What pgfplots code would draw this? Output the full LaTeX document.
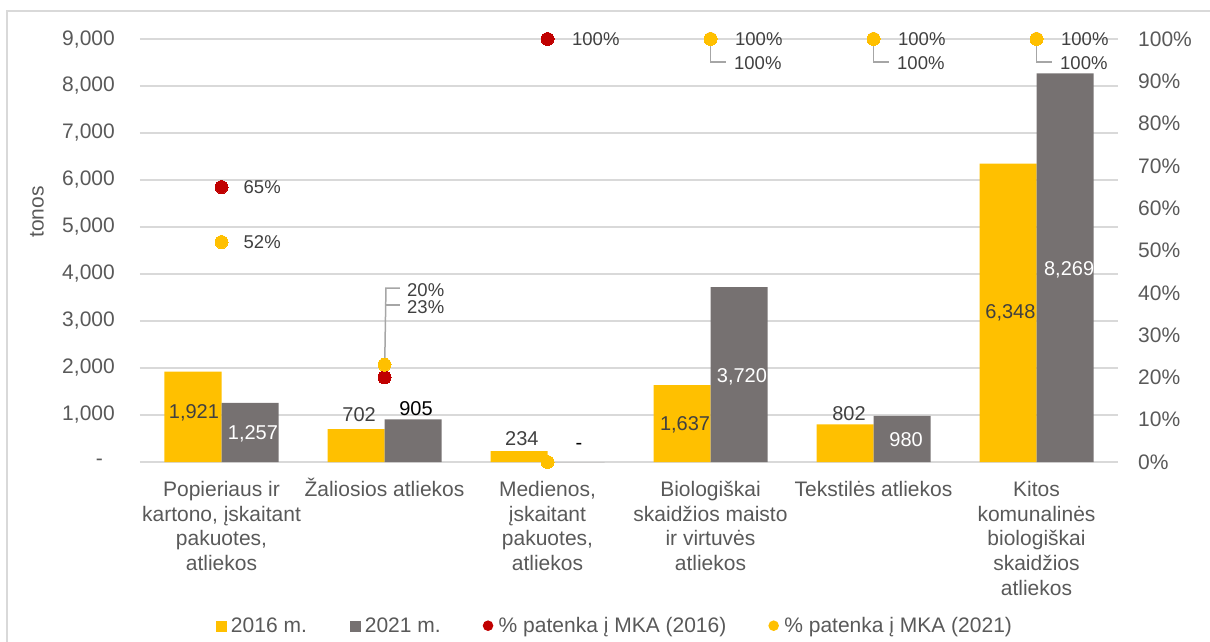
\documentclass[border=0pt]{standalone}
\usepackage{fontspec}
\setmainfont{Liberation Sans}
\usepackage{pgfplots}
\pgfplotsset{compat=1.18}
\definecolor{cyellow}{HTML}{FFC000}
\definecolor{cgrey}{HTML}{767171}
\definecolor{cred}{HTML}{C00000}
\definecolor{ctext}{HTML}{595959}
\definecolor{clab}{HTML}{404040}
\definecolor{cgrid}{HTML}{D9D9D9}
\definecolor{clead}{HTML}{A6A6A6}
\newcommand{\fA}{\fontsize{21}{24.7}\selectfont}
\newcommand{\fB}{\fontsize{20}{24}\selectfont}
\newcommand{\fC}{\fontsize{18.5}{22}\selectfont}
\begin{document}
\begin{tikzpicture}
\useasboundingbox (0,0) rectangle (1210pt,641pt);
\draw[cgrid, line width=1.5pt] (7pt,-3pt) rectangle (1214pt,630pt);
\begin{axis}[
  at={(140pt,179pt)}, anchor=south west,
  scale only axis, width=978pt, height=423pt,
  xmin=-0.5, xmax=5.5, ymin=0, ymax=9000,
  ybar=0pt, bar width=57pt,
  axis line style={draw=none}, tick style={draw=none}, major tick length=0pt,
  ymajorgrids, major grid style={cgrid, line width=1.2pt},
  xtick={0,...,5},
  xticklabels={{Popieriaus ir\\kartono, įskaitant\\pakuotes,\\atliekos},
    {\smash{Ž}aliosios atliekos},
    {Medienos,\\įskaitant\\pakuotes,\\atliekos},
    {Biologiškai\\skaidžios maisto\\ir virtuvės\\atliekos},
    {Tekstilės atliekos},
    {Kitos\\komunalinės\\biologiškai\\skaidžios\\atliekos}},
  ytick={0,1000,...,9000},
  yticklabels={{-\hspace*{12pt}},{1,000},{2,000},{3,000},{4,000},{5,000},{6,000},{7,000},{8,000},{9,000}},
  tick label style={font=\fA, text=ctext, inner sep=0pt},
  xticklabel style={align=center, anchor=north, yshift=-19pt},
  yticklabel style={anchor=east, xshift=-25pt},
  ylabel={tonos},
  ylabel style={font=\fA, text=ctext, at={(axis description cs:-0.1053,0.591)}, anchor=center, rotate=0},
  clip=false,
  legend columns=4, legend cell align=left,
  legend style={at={(axis description cs:0.0777,-0.387)}, anchor=west,
    draw=none, fill=none, inner sep=0pt, outer sep=0pt, column sep=0pt, row sep=0pt,
    nodes={inner sep=0pt, outer sep=0pt, font=\fA, text=ctext, anchor=west}},
]
\addplot[fill=cyellow, draw=none,
  legend image code/.code={\fill[cyellow] (0pt,-6.5pt) rectangle (11pt,4.5pt); \path[draw=none,fill=none] (0pt,0pt) -- (15pt,0pt);}]
  coordinates {(0,1921) (1,702) (2,234) (3,1637) (4,802) (5,6348)};
\addlegendentry{2016 m.\hspace*{43pt}}
\addplot[fill=cgrey, draw=none,
  legend image code/.code={\fill[cgrey] (0pt,-6.5pt) rectangle (11pt,4.5pt); \path[draw=none,fill=none] (0pt,0pt) -- (15pt,0pt);}]
  coordinates {(0,1257) (1,905) (2,0) (3,3720) (4,980) (5,8269)};
\addlegendentry{2021 m.\hspace*{42pt}}
\addlegendimage{legend image code/.code={\fill[cred, draw=none] (5.3pt,0pt) circle (5.3pt); \path[draw=none,fill=none] (0pt,0pt) -- (16pt,0pt);}}
\addlegendentry{\% patenka į MKA (2016)\hspace*{42pt}}
\addlegendimage{legend image code/.code={\fill[cyellow, draw=none] (5.3pt,0pt) circle (5.3pt); \path[draw=none,fill=none] (0pt,0pt) -- (16pt,0pt);}}
\addlegendentry{\% patenka į MKA (2021)}
% bar value labels
\node[font=\fB, text=clab] at (axis cs:-0.169,1042) {1,921};
\node[font=\fB, text=white] at (axis cs:0.193,596) {1,257};
\node[font=\fB, text=clab] at (axis cs:0.844,1000) {702};
\node[font=\fB, text=black] at (axis cs:1.193,1128) {905};
\node[font=\fB, text=clab] at (axis cs:1.843,489) {234};
\node[font=\fB, text=black] at (axis cs:2.193,340) {-};
\node[font=\fB, text=clab] at (axis cs:2.844,787) {1,637};
\node[font=\fB, text=white] at (axis cs:3.193,1809) {3,720};
\node[font=\fB, text=clab] at (axis cs:3.85,1021) {802};
\node[font=\fB, text=white] at (axis cs:4.2,468) {980};
\node[font=\fB, text=clab] at (axis cs:4.84,3170) {6,348};
\node[font=\fB, text=white] at (axis cs:5.2,4080) {8,269};
\end{axis}
\begin{axis}[
  at={(140pt,179pt)}, anchor=south west,
  scale only axis, width=978pt, height=423pt,
  xmin=-0.5, xmax=5.5, ymin=0, ymax=100,
  hide x axis, axis line style={draw=none}, tick style={draw=none}, major tick length=0pt,
  yticklabel pos=right,
  ytick={0,10,...,100},
  yticklabels={0\%,10\%,20\%,30\%,40\%,50\%,60\%,70\%,80\%,90\%,100\%},
  yticklabel style={font=\fA, text=ctext, inner sep=0pt, anchor=west, xshift=20pt},
  clip=false,
]
\addplot[only marks, color=cred, mark=*, mark size=6.5pt, mark options={draw=cred, fill=cred, line width=0pt}]
  coordinates {(0,65) (1,20) (2,100) (3,100) (4,100) (5,100)};
\addplot[only marks, color=cyellow, mark=*, mark size=6.5pt, mark options={draw=cyellow, fill=cyellow, line width=0pt}]
  coordinates {(0,52) (1,23) (2,0) (3,100) (4,100) (5,100)};
% leader lines
\draw[clead, line width=1.5pt] (axis cs:1.0,20) -- (axis cs:1.009,41.1) -- (axis cs:1.095,41.1);
\draw[clead, line width=1.5pt] (axis cs:1.005,37.1) -- (axis cs:1.095,37.1);
\draw[clead, line width=1.5pt] (axis cs:3,100) -- (axis cs:3,94.6) -- (axis cs:3.095,94.6);
\draw[clead, line width=1.5pt] (axis cs:4,100) -- (axis cs:4,94.6) -- (axis cs:4.095,94.6);
\draw[clead, line width=1.5pt] (axis cs:5,100) -- (axis cs:5,94.6) -- (axis cs:5.095,94.6);
% percent labels
\tikzset{pl/.style={font=\fC, text=clab, anchor=west, inner sep=0pt}}
\node[pl] at (axis cs:0.135,65) {65\%};
\node[pl] at (axis cs:0.135,52) {52\%};
\node[pl] at (axis cs:1.138,40.7) {20\%};
\node[pl] at (axis cs:1.138,36.6) {23\%};
\node[pl] at (axis cs:2.15,100) {100\%};
\node[pl] at (axis cs:3.15,100) {100\%};
\node[pl] at (axis cs:3.144,94.3) {100\%};
\node[pl] at (axis cs:4.15,100) {100\%};
\node[pl] at (axis cs:4.144,94.3) {100\%};
\node[pl] at (axis cs:5.15,100) {100\%};
\node[pl] at (axis cs:5.144,94.3) {100\%};
\end{axis}
\end{tikzpicture}
\end{document}
